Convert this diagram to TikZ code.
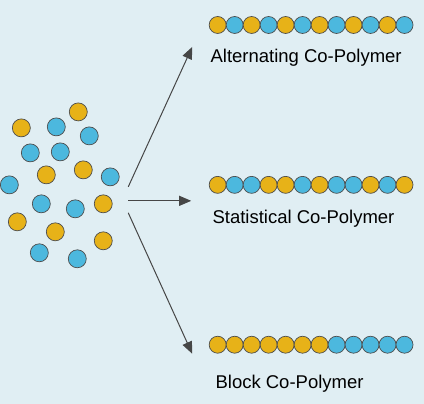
\documentclass[tikz,border=0pt]{standalone}
\usepackage{fontspec}
\setmainfont{Liberation Sans}
\usetikzlibrary{arrows.meta}
\definecolor{bgblue}{RGB}{224,238,243}
\definecolor{monoA}{RGB}{231,178,24}
\definecolor{monoB}{RGB}{76,184,222}
\definecolor{arrowgray}{RGB}{70,70,70}
\tikzset{bead/.style={circle, draw=black!70, line width=0.7pt, minimum size=17pt, inner sep=0pt},
  chainlabel/.style={anchor=base west, inner sep=0pt, font=\fontsize{18.5}{22}\selectfont}}

\begin{document}
\begin{tikzpicture}[x=1pt, y=-1pt, >={Triangle[length=12pt, width=10pt]}, thick]
\fill [bgblue] (0,0) rectangle (424,404);

% loose monomers
\foreach \px/\py/\c [count=\i] in {21/128/monoA, 56/127/monoB, 78/112/monoA, 89/136/monoB,
  30/153/monoB, 60/152/monoB, 46/175/monoA, 83/170/monoA, 110/177/monoB, 9/185/monoB,
  41/204/monoB, 75/209/monoB, 103/204/monoA, 17/222/monoA, 55/232/monoA, 103/241/monoA,
  39/253/monoB, 77/259/monoB}
  \node [bead, fill=\c, minimum size=18pt] (m\i) at (\px,\py) {};

% chains
\foreach \c [count=\i from 0] in {monoA,monoB,monoA,monoB,monoA,monoB,monoA,monoB,monoA,monoB,monoA,monoB}
  \node [bead, fill=\c] (alt\i) at (217.5+17*\i,25) {};
\foreach \c [count=\i from 0] in {monoA,monoB,monoB,monoA,monoA,monoB,monoA,monoB,monoB,monoA,monoB,monoA}
  \node [bead, fill=\c] (stat\i) at (217.5+17*\i,185) {};
\foreach \c [count=\i from 0] in {monoA,monoA,monoA,monoA,monoA,monoA,monoA,monoB,monoB,monoB,monoB,monoB}
  \node [bead, fill=\c] (blk\i) at (217.5+17*\i,345) {};

\node [chainlabel] (altlabel) at (210,63) {Alternating Co-Polymer};
\node [chainlabel] (statlabel) at (212,224) {Statistical Co-Polymer};
\node [chainlabel] (blklabel) at (215,389) {Block Co-Polymer};

% reaction arrows
\coordinate (src1) at (128,187);
\coordinate (src2) at (128,201);
\coordinate (src3) at (128,213);
\coordinate (dst1) at (192,47);
\coordinate (dst2) at (191,201);
\coordinate (dst3) at (192,354);
\draw [->, arrowgray, line width=1pt] (src1) -- (dst1);
\draw [->, arrowgray, line width=1pt] (src2) -- (dst2);
\draw [->, arrowgray, line width=1pt] (src3) -- (dst3);

\end{tikzpicture}
\end{document}
